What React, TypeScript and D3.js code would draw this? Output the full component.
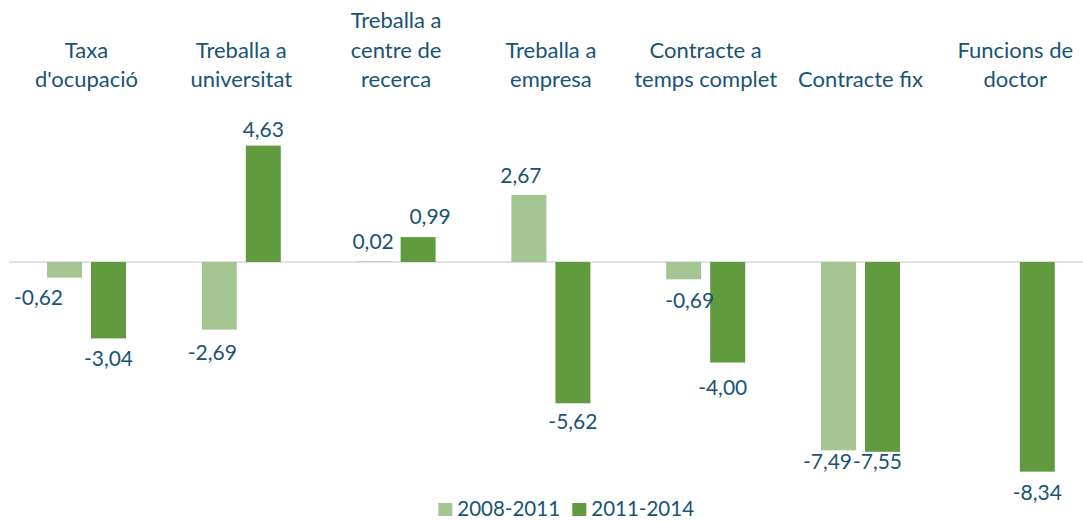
import React from "react";
import * as d3 from "d3";

const categories: string[][] = [
  ["Taxa", "d'ocupació"],
  ["Treballa a", "universitat"],
  ["Treballa a", "centre de", "recerca"],
  ["Treballa a", "empresa"],
  ["Contracte a", "temps complet"],
  ["Contracte fix"],
  ["Funcions de", "doctor"],
];
const seriesNames = ["2008-2011", "2011-2014"];
const values2008_2011: (number | null)[] = [-0.62, -2.69, 0.02, 2.67, -0.69, -7.49, null];
const values2011_2014: (number | null)[] = [-3.04, 4.63, 0.99, -5.62, -4.0, -7.55, -8.34];

// small manual label nudges (dx, dy) mirroring the reference's hand-placed labels
const labelNudge2008: [number, number][] = [[-26, 0], [-7, 3], [-1, 0], [-8, 0], [6, 2], [-11, -8], [0, 0]];
const labelNudge2011: [number, number][] = [[0, 1], [0, 3], [12, -1], [0, -1], [-5, 5], [-5, -10], [0, 1]];

const W = 1083;
const H = 522;
const FONT = "Lato, 'Open Sans', sans-serif";
const TEXT = "#185475";
const COLORS = ["#A5C592", "#629B3F"];

export default function App() {
  const x = d3.scaleBand<number>().domain(d3.range(categories.length)).range([9.1, 1092.7]).padding(0);
  const inner = d3.scaleBand<number>().domain([0, 1]).range([-39.5, 39.5]).paddingInner(0.205).paddingOuter(0);
  const y = d3.scaleLinear().domain([-9, 5]).range([262 + 9 * 25.14, 262 - 5 * 25.14]);

  const series = [values2008_2011, values2011_2014];
  const nudges = [labelNudge2008, labelNudge2011];
  const fmt = (v: number) => d3.format(".2f")(v).replace(".", ",").replace("−", "-");

  const marks: { i: number; s: number; v: number; bx: number; bw: number }[] = [];
  categories.forEach((_, i) => {
    const cx = x(i)! + x.bandwidth() / 2;
    series.forEach((vals, s) => {
      const v = vals[i];
      if (v === null) return;
      marks.push({ i, s, v, bx: cx + inner(s)!, bw: inner.bandwidth() });
    });
  });

  return (
    <svg width={W} height={H} style={{ position: "absolute", left: 0, top: 0, background: "#fff" }}>
      <line x1={9} x2={W} y1={y(0)} y2={y(0)} stroke="#D9D9D9" strokeWidth={1.5} />
      {categories.map((lines, i) => {
        const cx = x(i)! + x.bandwidth() / 2;
        return (
          <text key={"c" + i} textAnchor="middle" fontFamily={FONT} fontSize={22} fill={TEXT}>
            {lines.map((l, j) => (
              <tspan key={j} x={cx} y={87 - (lines.length - 1 - j) * 29.4}>
                {l}
              </tspan>
            ))}
          </text>
        );
      })}
      {marks.map((m) => (
        <rect
          key={`b${m.i}-${m.s}`}
          x={m.bx}
          y={Math.min(y(m.v), y(0))}
          width={m.bw}
          height={Math.max(Math.abs(y(m.v) - y(0)), 0.5)}
          fill={COLORS[m.s]}
        />
      ))}
      {marks.map((m) => {
        const [dx, dy] = nudges[m.s][m.i];
        const ly = m.v >= 0 ? y(m.v) - 12 : y(m.v) + 27;
        return (
          <text
            key={`l${m.i}-${m.s}`}
            x={m.bx + m.bw / 2 + dx}
            y={ly + dy}
            textAnchor="middle"
            fontFamily={FONT}
            fontSize={21}
            fill={TEXT}
          >
            {fmt(m.v)}
          </text>
        );
      })}
      <g fontFamily={FONT} fontSize={20.5} fill={TEXT}>
        {seriesNames.map((n, s) => {
          const lx = s === 0 ? 438.3 : 572.3;
          return (
            <g key={n}>
              <rect x={lx} y={503} width={14} height={13} fill={COLORS[s]} />
              <text x={lx + 19} y={516}>
                {n}
              </text>
            </g>
          );
        })}
      </g>
    </svg>
  );
}
